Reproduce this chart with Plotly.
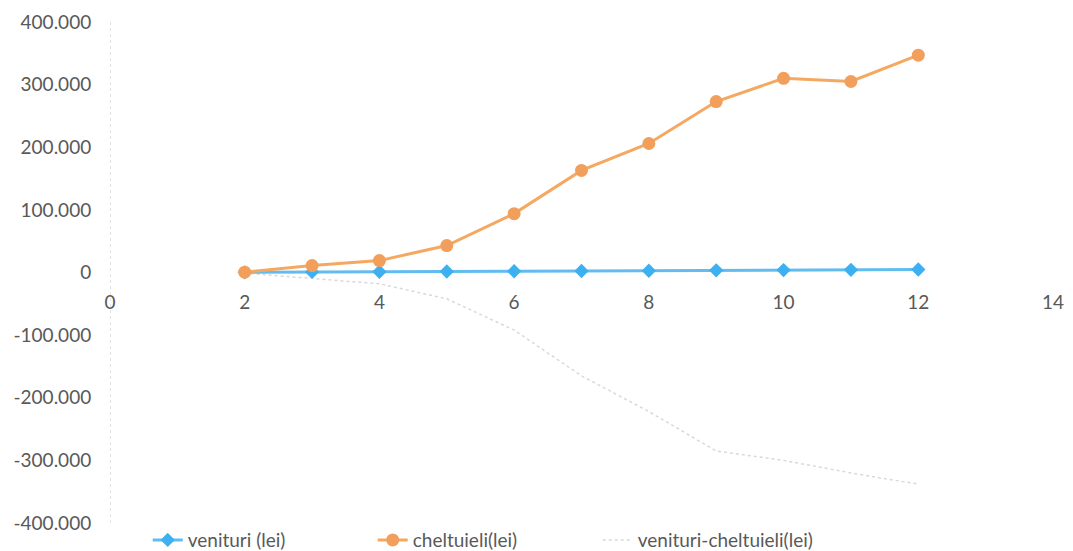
import plotly.graph_objects as go

luni = [2, 3, 4, 5, 6, 7, 8, 9, 10, 11, 12]
venituri = [200, 900, 1200, 1600, 2000, 2400, 2800, 3400, 3800, 4200, 4800]
cheltuieli = [500, 11000, 19000, 43000, 94000, 163000, 206000, 273000, 310000, 305000, 347000]
diferenta = [-1000, -9000, -18000, -42000, -92000, -165000, -222000, -285000, -300000, -320000, -338000]

y_ticks = [-400000, -300000, -200000, -100000, 0, 100000, 200000, 300000, 400000]
y_labels = ["-400.000", "-300.000", "-200.000", "-100.000", "0", "100.000", "200.000", "300.000", "400.000"]
x_ticks = [0, 2, 4, 6, 8, 10, 12, 14]

TEXT = "#595959"
FONT = "Lato, 'Open Sans', sans-serif"

fig = go.Figure()
fig.add_trace(go.Scatter(
    x=luni, y=venituri, mode="lines+markers", name="venituri (lei)",
    line={"color": "#62bdef", "width": 3},
    marker={"color": "#3cb0f0", "size": 11, "symbol": "diamond"},
))
fig.add_trace(go.Scatter(
    x=luni, y=cheltuieli, mode="lines+markers", name="cheltuieli(lei)",
    line={"color": "#f4a860", "width": 3},
    marker={"color": "#f39f5c", "size": 13, "symbol": "circle"},
))
fig.add_trace(go.Scatter(
    x=luni, y=diferenta, mode="lines", name="venituri-cheltuieli(lei)",
    line={"color": "rgba(170,170,170,0.45)", "width": 1.5, "dash": "dot"},
))

# faint dotted vertical axis at x = 0
fig.add_shape(type="line", xref="x", yref="paper", x0=0, x1=0, y0=0, y1=1,
              line={"color": "rgba(160,160,160,0.6)", "width": 1, "dash": "dot"})

fig.update_layout(
    width=1073, height=551,
    paper_bgcolor="white", plot_bgcolor="white",
    font={"family": FONT, "color": TEXT, "size": 19},
    margin={"l": 102, "r": 28, "t": 14, "b": 36, "autoexpand": False},
    showlegend=True,
    legend={"orientation": "h", "x": 0.04, "xanchor": "left", "y": -0.034, "yanchor": "middle",
            "font": {"size": 19, "color": TEXT}, "entrywidth": 180, "entrywidthmode": "pixels"},
    xaxis={"range": [0, 14], "tickvals": x_ticks, "showgrid": False, "zeroline": False,
           "showline": False, "anchor": "free", "position": 0.5,
           "ticks": "outside", "ticklen": 13, "tickcolor": "rgba(0,0,0,0)",
           "tickfont": {"size": 19, "color": TEXT}},
    yaxis={"range": [-400000, 400000], "tickvals": y_ticks, "ticktext": y_labels,
           "showgrid": False, "zeroline": False, "showline": False,
           "ticks": "outside", "ticklen": 14, "tickcolor": "rgba(0,0,0,0)",
           "tickfont": {"size": 19, "color": TEXT}},
)

fig.write_html("out.html")
